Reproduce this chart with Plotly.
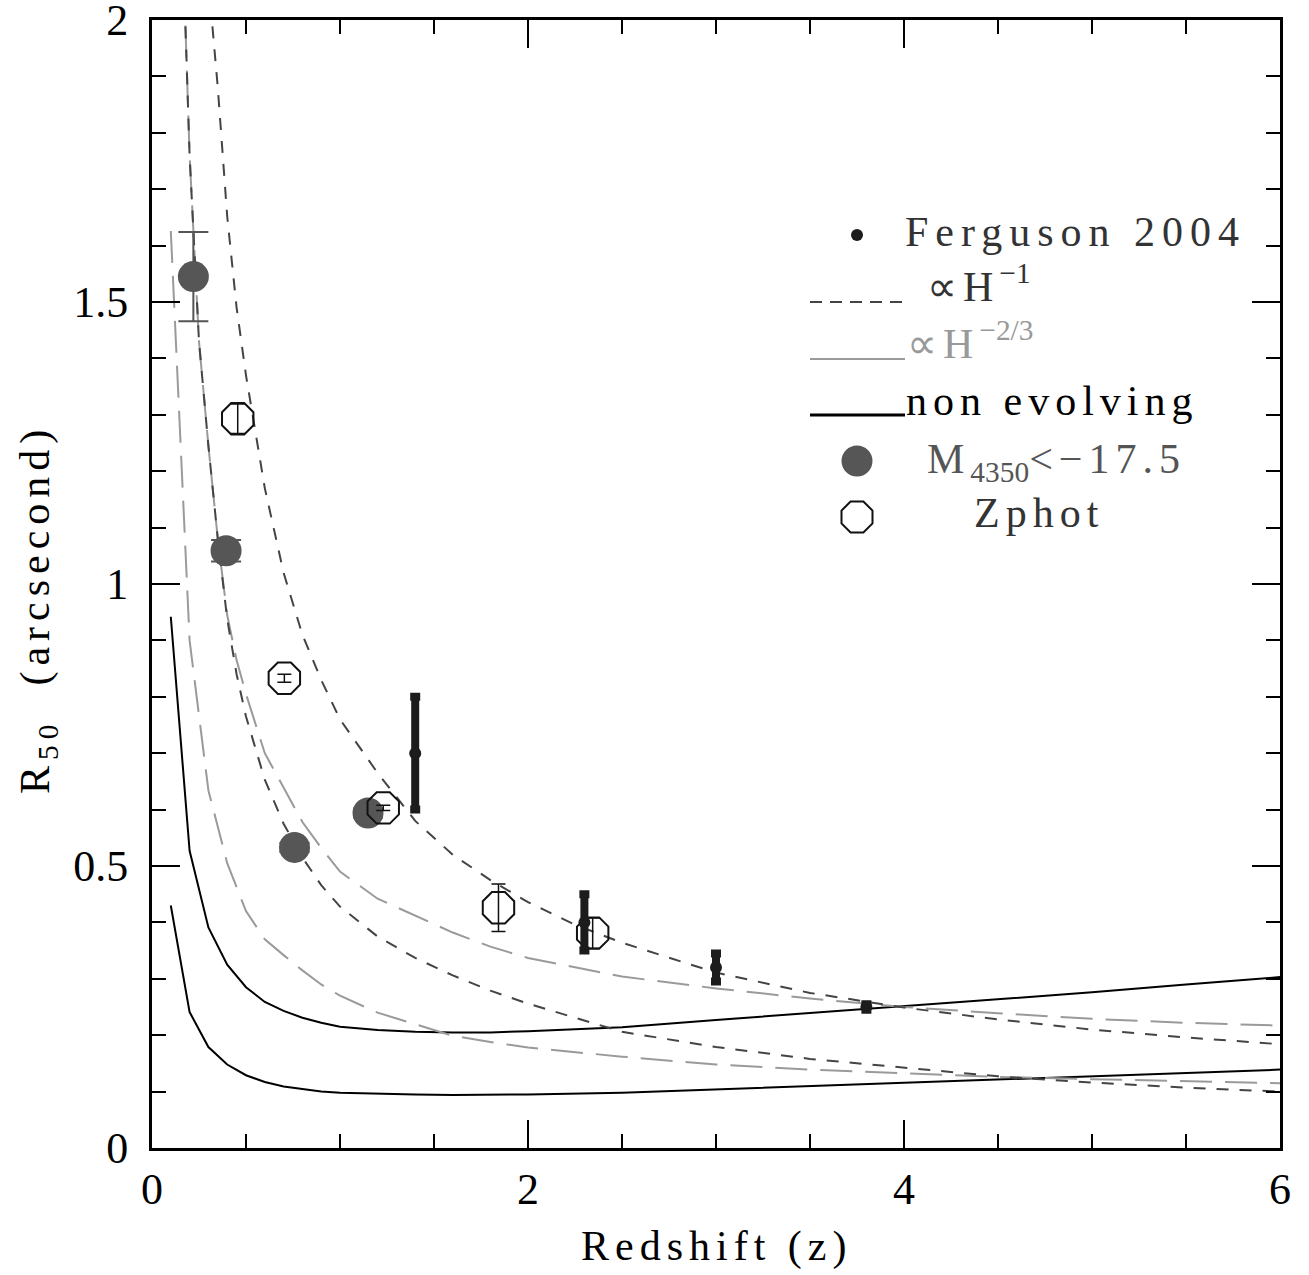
import plotly.graph_objects as go

# ---------------- data ----------------
# non evolving curves (solid black)
z_nonevol = [0.1, 0.2, 0.3, 0.4, 0.5, 0.6, 0.7, 0.8, 0.9, 1.0, 1.2, 1.4, 1.6, 1.8,
             2.0, 2.5, 3.0, 3.5, 4.0, 4.5, 5.0, 5.5, 6.0]
r_nonevol_hi = [0.942, 0.527, 0.391, 0.325, 0.285, 0.259, 0.243, 0.231, 0.222, 0.215,
                0.209, 0.206, 0.205, 0.205, 0.207, 0.214, 0.227, 0.239, 0.251, 0.263,
                0.276, 0.290, 0.303]
r_nonevol_lo = [0.430, 0.241, 0.179, 0.148, 0.129, 0.117, 0.109, 0.104, 0.100, 0.098,
                0.096, 0.095, 0.094, 0.094, 0.095, 0.098, 0.104, 0.109, 0.115, 0.121,
                0.127, 0.133, 0.139]

# proportional to H^-1 (dark short dashes)
z_h1_hi = [0.3, 0.35, 0.4, 0.45, 0.5, 0.6, 0.7, 0.8, 0.9, 1.0, 1.2, 1.4, 1.6, 1.8, 2.0,
           2.25, 2.5, 3.0, 3.5, 4.0, 4.5, 5.0, 5.5, 6.0]
r_h1_hi = [2.07, 1.88, 1.652, 1.49, 1.37, 1.17, 1.02, 0.91, 0.83, 0.76, 0.665, 0.58,
           0.52, 0.475, 0.436, 0.396, 0.364, 0.311, 0.275, 0.249, 0.228, 0.210, 0.196,
           0.184]
z_h1_lo = [0.17, 0.2, 0.25, 0.3, 0.35, 0.4, 0.45, 0.5, 0.6, 0.7, 0.8, 0.9, 1.0, 1.2,
           1.4, 1.6, 1.8, 2.0, 2.5, 3.0, 3.5, 4.0, 4.5, 5.0, 5.5, 6.0]
r_h1_lo = [2.07, 1.76, 1.43, 1.245, 1.08, 0.938, 0.84, 0.765, 0.653, 0.575, 0.515,
           0.466, 0.428, 0.375, 0.337, 0.306, 0.279, 0.256, 0.206, 0.179, 0.158, 0.142,
           0.127, 0.116, 0.107, 0.100]

# proportional to H^-2/3 (grey long dashes)
z_h23_hi = [0.17, 0.2, 0.25, 0.3, 0.35, 0.4, 0.45, 0.5, 0.6, 0.7, 0.8, 0.9, 1.0, 1.2,
            1.4, 1.6, 1.8, 2.0, 2.5, 3.0, 3.5, 4.0, 4.5, 5.0, 5.5, 6.0]
r_h23_hi = [2.07, 1.76, 1.43, 1.245, 1.08, 0.945, 0.865, 0.805, 0.70, 0.638, 0.578,
            0.532, 0.490, 0.442, 0.412, 0.382, 0.357, 0.337, 0.304, 0.283, 0.265, 0.250,
            0.239, 0.229, 0.222, 0.217]
z_h23_lo = [0.1, 0.2, 0.3, 0.4, 0.5, 0.6, 0.7, 0.8, 0.9, 1.0, 1.2, 1.4, 1.6, 1.8, 2.0,
            2.5, 3.0, 3.5, 4.0, 4.5, 5.0, 5.5, 6.0]
r_h23_lo = [1.626, 0.90, 0.634, 0.505, 0.42, 0.37, 0.342, 0.315, 0.29, 0.27, 0.24,
            0.219, 0.199, 0.188, 0.178, 0.162, 0.148, 0.139, 0.132, 0.126, 0.122, 0.118,
            0.115]

# M4350 < -17.5 (filled grey circles)
z_m4350 = [0.22, 0.394, 0.758, 1.149]
r_m4350 = [1.545, 1.059, 0.533, 0.594]
e_m4350 = [0.079, 0.019, 0.008, 0.008]

# Zphot (open octagons)
z_zphot = [0.456, 0.704, 1.23, 1.843, 2.344]
r_zphot = [1.293, 0.833, 0.603, 0.426, 0.381]
e_zphot = [0.026, 0.007, 0.0045, 0.042, 0.027]

# Ferguson 2004
z_ferg = [1.40, 2.30, 3.00, 3.80]
r_ferg = [0.70, 0.40, 0.32, 0.25]
e_ferg = [0.10, 0.05, 0.025, 0.005]

x_ticks = [0, 2, 4, 6]
y_ticks = [0, 0.5, 1, 1.5, 2]
y_ticktext = ["0", "0.5", "1", "1.5", "2"]

# ---------------- figure ----------------
FONT = "Liberation Serif"
W, H = 1309, 1275
L, R, T, B = 152, 29, 20, 127
PW = W - L - R
PH = H - T - B

DARK = "#444444"
GREY = "#9a9a9a"

fig = go.Figure()


def add_line(x, y, color, dash, width=2):
    fig.add_trace(go.Scatter(x=x, y=y, mode="lines",
                             line=dict(color=color, dash=dash, width=width),
                             showlegend=False, hoverinfo="skip"))


add_line(z_nonevol, r_nonevol_hi, "black", "solid", 2)
add_line(z_nonevol, r_nonevol_lo, "black", "solid", 2)
add_line(z_h23_hi, r_h23_hi, GREY, "32px,13px", 2)
add_line(z_h23_lo, r_h23_lo, GREY, "32px,13px", 2)
add_line(z_h1_hi, r_h1_hi, DARK, "12px,11px", 2)
add_line(z_h1_lo, r_h1_lo, DARK, "12px,11px", 2)

fig.add_trace(go.Scatter(
    x=z_m4350, y=r_m4350, mode="markers",
    marker=dict(size=31, color="#565656", line=dict(width=0)),
    error_y=dict(type="data", array=e_m4350, color="#555555", thickness=2, width=15),
    showlegend=False, hoverinfo="skip"))

fig.add_trace(go.Scatter(
    x=z_zphot, y=r_zphot, mode="markers",
    marker=dict(size=34, symbol="octagon-open", color="#111111", line=dict(width=2)),
    error_y=dict(type="data", array=e_zphot, color="#111111", thickness=1.5, width=7),
    showlegend=False, hoverinfo="skip"))

fig.add_trace(go.Scatter(
    x=z_ferg, y=r_ferg, mode="markers",
    marker=dict(size=12, color="#1c1c1c", line=dict(width=0)),
    error_y=dict(type="data", array=e_ferg, color="#1c1c1c", thickness=8, width=5),
    showlegend=False, hoverinfo="skip"))

axis_common = dict(
    showline=True, linecolor="black", linewidth=3, mirror="ticks",
    ticks="inside", ticklen=28, tickwidth=2, tickcolor="black",
    showgrid=False, zeroline=False, ticklabeloverflow="allow", automargin=False,
    tickfont=dict(family=FONT, size=44, color="black"),
)
fig.update_xaxes(range=[0, 6], tickmode="array", tickvals=x_ticks,
                 ticktext=[str(v) for v in x_ticks],
                 minor=dict(dtick=0.5, tick0=0, ticks="inside", ticklen=14,
                            tickwidth=2, tickcolor="black", showgrid=False),
                 ticklabelstandoff=0, **axis_common)
fig.update_yaxes(range=[0, 2], tickmode="array", tickvals=y_ticks,
                 ticktext=y_ticktext,
                 minor=dict(dtick=0.1, tick0=0, ticks="inside", ticklen=14,
                            tickwidth=2, tickcolor="black", showgrid=False),
                 ticklabelstandoff=12, **axis_common)


def px(x):
    return (x - L) / PW


def py(y):
    return (T + PH - y) / PH


def sp(text, s=6):
    return '<span style="letter-spacing:%dpx">%s</span>' % (s, text)


annotations = []
shapes = []

# axis titles
annotations.append(dict(text=sp("Redshift (z)"), x=0.5, y=py(1246), xref="paper",
                        yref="paper", xanchor="center", yanchor="middle",
                        showarrow=False, font=dict(family=FONT, size=42, color="black")))
annotations.append(dict(text=sp("R<sub>50</sub>  (arcsecond)"), x=px(38), y=py(609),
                        xref="paper", yref="paper", xanchor="center", yanchor="middle",
                        textangle=-90, showarrow=False,
                        font=dict(family=FONT, size=42, color="black")))

# legend
LF = 42


def legend_text(text, x, y, color, yanchor="middle"):
    annotations.append(dict(text=text, x=px(x), y=py(y), xref="paper", yref="paper",
                            xanchor="left", yanchor=yanchor, showarrow=False,
                            font=dict(family=FONT, size=LF, color=color)))


legend_text(sp("Ferguson 2004", 7), 903, 232, "#333333")
legend_text(sp("∝H") + "<sup>−1</sup>", 925, 312, "#333333", "bottom")
legend_text(sp("∝H") + "<sup>−2/3</sup>", 905, 369, "#999999", "bottom")
legend_text(sp("non evolving"), 904, 401, "black")
legend_text(sp("M") + "<sub>4350</sub>" + sp("<−17.5"), 925, 434, "#555555", "top")
legend_text(sp("Zphot"), 972, 513, "#333333")


def circle(cx, cy, r, fill):
    shapes.append(dict(type="circle", xref="paper", yref="paper",
                       x0=px(cx - r), x1=px(cx + r), y0=py(cy + r), y1=py(cy - r),
                       fillcolor=fill, line=dict(width=0)))


circle(857, 235, 6, "#1c1c1c")
circle(857, 461, 15.5, "#565656")

# legend line samples
shapes.append(dict(type="line", xref="paper", yref="paper", x0=px(810), x1=px(902),
                   y0=py(302), y1=py(302), line=dict(color=DARK, width=2, dash="12px,8px")))
shapes.append(dict(type="line", xref="paper", yref="paper", x0=px(810), x1=px(905),
                   y0=py(359), y1=py(359), line=dict(color=GREY, width=2)))
shapes.append(dict(type="line", xref="paper", yref="paper", x0=px(810), x1=px(905),
                   y0=py(415), y1=py(415), line=dict(color="black", width=3)))

# legend octagon
cx, cy, hw = 857, 517, 15.5
a = hw * 0.4142
pts = [(-a, -hw), (a, -hw), (hw, -a), (hw, a), (a, hw), (-a, hw), (-hw, a), (-hw, -a)]
path = "M " + " L ".join("%.5f,%.5f" % (px(cx + dx), py(cy + dy)) for dx, dy in pts) + " Z"
shapes.append(dict(type="path", xref="paper", yref="paper", path=path,
                   line=dict(color="#111111", width=2)))

fig.update_layout(
    width=W, height=H,
    margin=dict(l=L, r=R, t=T, b=B, autoexpand=False),
    paper_bgcolor="white", plot_bgcolor="white",
    showlegend=False,
    annotations=annotations, shapes=shapes,
    font=dict(family=FONT, color="black"),
)

fig.write_html("out.html")
